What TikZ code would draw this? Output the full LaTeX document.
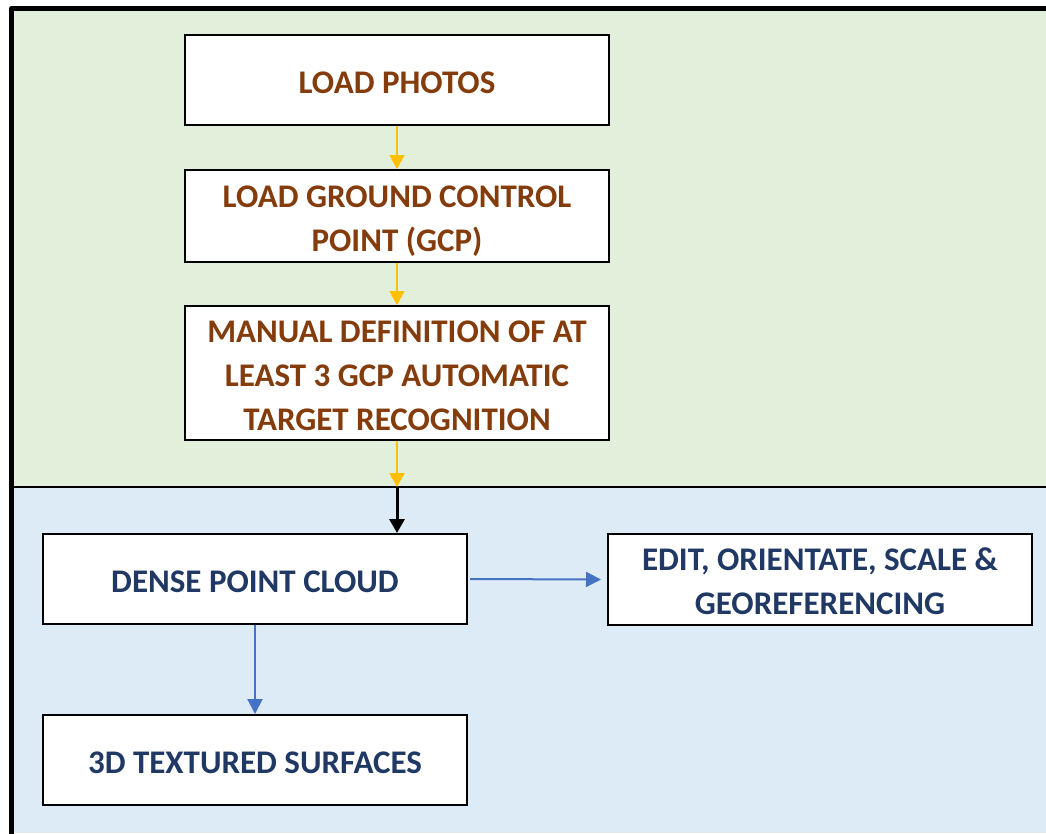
\documentclass[tikz,border=0pt]{standalone}
\usepackage{fontspec}
\setmainfont{Carlito}
\usetikzlibrary{arrows.meta}
\definecolor{bggreen}{HTML}{E2EFDA}
\definecolor{bgblue}{HTML}{DDEBF7}
\definecolor{brown}{HTML}{843C0C}
\definecolor{navy}{HTML}{203864}
\definecolor{arryellow}{HTML}{FFC000}
\definecolor{arrblue}{HTML}{4472C4}
\tikzset{
  stepbox/.style={draw=black, line width=2pt, fill=white, minimum width=424pt, inner sep=0pt},
  steptext/.style={align=center, font=\fontsize{33}{44}\selectfont\bfseries, inner sep=0pt},
  greentext/.style={steptext, text=brown},
  bluetext/.style={steptext, text=navy},
  yarrow/.style={draw=arryellow, line width=2pt, -{Triangle[width=15pt,length=14pt]}},
  karrow/.style={draw=black, line width=3pt, -{Triangle[width=15pt,length=14pt]}},
  barrow/.style={draw=arrblue, line width=2pt, -{Triangle[width=15pt,length=15pt]}},
}
\begin{document}
\begin{tikzpicture}[x=1pt,y=-1pt]
\useasboundingbox (0,0) rectangle (1046,833);
\fill[white] (0,0) rectangle (1046,833);
% backgrounds
\fill[bggreen] (12,8) rectangle (1046,487);
\fill[bgblue] (12,487) rectangle (1046,833);
\draw[line width=2.5pt] (12,487) -- (1046,487);
\draw[line width=5pt, line join=round] (11.5,836) -- (11.5,8) -- (1046,8);
% boxes
\node[stepbox, minimum height=90pt] (photos) at (397,80) {};
\node[stepbox, minimum height=92pt] (gcp) at (397,216) {};
\node[stepbox, minimum height=134pt] (manual) at (397,373) {};
\node[stepbox, minimum height=90pt] (dense) at (255,579) {};
\node[stepbox, minimum height=91pt] (edit) at (820,579.5) {};
\node[stepbox, minimum height=90pt] (tex) at (255,760) {};
% texts
\node[greentext] (photos-t) at ([yshift=-3pt]photos.center) {LOAD PHOTOS};
\node[greentext] (gcp-t) at ([yshift=-5pt]gcp.center) {LOAD GROUND CONTROL\\POINT (GCP)};
\node[greentext] (manual-t) at ([yshift=-3pt]manual.center) {MANUAL DEFINITION OF AT\\LEAST 3 GCP AUTOMATIC\\TARGET RECOGNITION};
\node[bluetext] (dense-t) at ([yshift=-3pt]dense.center) {DENSE POINT CLOUD};
\node[bluetext] (edit-t) at ([yshift=-1.5pt]edit.center) {EDIT, ORIENTATE, SCALE \&\\GEOREFERENCING};
\node[bluetext] (tex-t) at ([yshift=-3pt]tex.center) {3D TEXTURED SURFACES};
\coordinate (sep) at (397,487);
% connectors
\draw[yarrow] (photos.south) -- (gcp.north);
\draw[yarrow] (gcp.south) -- (manual.north);
\draw[yarrow] (manual.south) -- (sep);
\draw[karrow] (sep) -- (sep |- dense.north);
\draw[barrow] ([xshift=2pt]dense.east) -- ([xshift=-6pt]edit.west);
\draw[barrow] (dense.south) -- (tex.north);
\end{tikzpicture}
\end{document}
